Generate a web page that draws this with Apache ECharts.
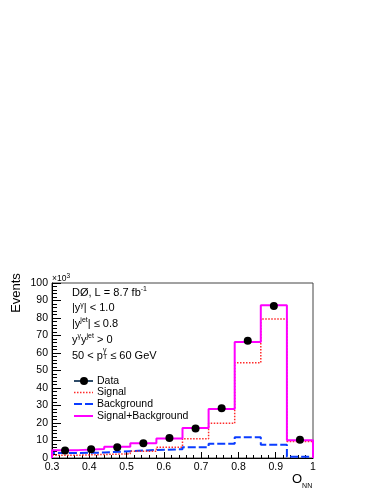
<!DOCTYPE html>
<html>
<head>
<meta charset="utf-8">
<script src="https://cdn.jsdelivr.net/npm/echarts@6/dist/echarts.min.js"></script>
<style>
html,body{margin:0;padding:0;background:#fff;}
#c{width:383px;height:495px;}
</style>
</head>
<body>
<div id="c"></div>
<script>
// ---- data (values in units of 10^3 events) ----
const binEdges = [0.30, 0.37, 0.44, 0.51, 0.58, 0.65, 0.72, 0.79, 0.86, 0.93, 1.00];
const binCenters = [0.335, 0.405, 0.475, 0.545, 0.615, 0.685, 0.755, 0.825, 0.895, 0.965];
const dataVals = [4.3, 5.0, 6.1, 8.5, 11.5, 16.8, 28.5, 67.0, 86.8, 10.5];
const signalVals = [1.6, 2.0, 2.4, 3.8, 6.2, 11.0, 19.8, 54.5, 79.5, 9.5];
const backgroundVals = [2.9, 3.1, 3.9, 4.6, 5.0, 6.2, 8.2, 11.9, 7.6, 0.7];
const sumVals = [4.5, 5.1, 6.4, 8.5, 11.1, 17.2, 28.0, 66.3, 87.3, 10.1];
const legendNames = ['Data', 'Signal', 'Background', 'Signal+Background'];
const xTickLabels = ['0.3', '0.4', '0.5', '0.6', '0.7', '0.8', '0.9', '1'];
const yTickLabels = ['0', '10', '20', '30', '40', '50', '60', '70', '80', '90', '100'];

function histPoints(vals) {
  const pts = [[binEdges[0], 0]];
  for (let i = 0; i < vals.length; i++) pts.push([binEdges[i], vals[i]]);
  pts.push([binEdges[binEdges.length - 1], vals[vals.length - 1]]);
  pts.push([binEdges[binEdges.length - 1], 0]);
  return pts;
}

const FONT = '"Liberation Sans", Arial, Helvetica, sans-serif';
const chart = echarts.init(document.getElementById('c'), null, {renderer: 'canvas'});

const GL = 52, GR = 313, GT = 283, GB = 458;

const legendY = [381, 392.5, 404, 416];
const legendGraphics = [];
legendGraphics.push({type: 'line', shape: {x1: 74, y1: legendY[0], x2: 93, y2: legendY[0]}, style: {stroke: '#2e4b68', lineWidth: 2}});
legendGraphics.push({type: 'circle', shape: {cx: 84, cy: legendY[0], r: 4}, style: {fill: '#000'}});
legendGraphics.push({type: 'line', shape: {x1: 74, y1: legendY[1], x2: 93, y2: legendY[1]}, style: {stroke: '#ff2a2a', lineWidth: 1.5, lineDash: [1.5, 1.5]}});
legendGraphics.push({type: 'line', shape: {x1: 74, y1: legendY[2], x2: 93, y2: legendY[2]}, style: {stroke: '#0a3cff', lineWidth: 2, lineDash: [8, 3]}});
legendGraphics.push({type: 'line', shape: {x1: 74, y1: legendY[3], x2: 93, y2: legendY[3]}, style: {stroke: '#ff00ff', lineWidth: 2}});
legendNames.forEach((n, i) => {
  legendGraphics.push({type: 'text', x: 97, y: legendY[i], style: {text: n, font: '10.5px ' + FONT, fill: '#000', verticalAlign: 'middle', align: 'left'}});
});

const base = {fontSize: 11, fontFamily: FONT, color: '#000', verticalAlign: 'bottom', lineHeight: 12};
const sup = {fontSize: 7, fontFamily: FONT, color: '#000', verticalAlign: 'top', lineHeight: 12};
const sub = {fontSize: 7, fontFamily: FONT, color: '#000', verticalAlign: 'bottom', lineHeight: 9};

function richText(y, text) {
  return {type: 'text', x: 72, y: y, style: {text: text, verticalAlign: 'middle', align: 'left', rich: {a: base, s: sup, b: sub}}};
}

const annot = [
  richText(292, '{a|DØ, L = 8.7 fb}{s|-1}'),
  richText(307.5, '{a||y}{s|γ}{a|| < 1.0}'),
  richText(323, '{a||y}{s|jet}{a|| ≤ 0.8}'),
  richText(339, '{a|y}{s|γ}{a|y}{s|jet}{a| > 0}'),
  richText(355, '{a|50 < p}{b|T}{a| ≤ 60 GeV}'),
  {type: 'text', x: 103, y: 346.5, style: {text: 'γ', font: '7px ' + FONT, fill: '#000', align: 'left', verticalAlign: 'top'}}
];

const option = {
  animation: false,
  backgroundColor: '#fff',
  grid: {left: GL, right: 383 - GR, top: GT, bottom: 495 - GB, show: true, borderColor: '#444', borderWidth: 1, backgroundColor: 'transparent'},
  xAxis: {
    type: 'value', min: 0.3, max: 1.0, interval: 0.1,
    axisLine: {show: true, onZero: false, lineStyle: {color: '#000', width: 1}},
    axisTick: {show: true, inside: true, length: 6, lineStyle: {color: '#000'}},
    minorTick: {show: true, splitNumber: 5, length: 3, lineStyle: {color: '#000'}},
    splitLine: {show: false},
    axisLabel: {
      fontSize: 10.5, fontFamily: FONT, color: '#000', margin: 4,
      formatter: v => { const i = Math.round((v - 0.3) / 0.1); return xTickLabels[i] !== undefined ? xTickLabels[i] : ''; }
    }
  },
  yAxis: {
    type: 'value', min: 0, max: 100, interval: 10,
    axisLine: {show: true, lineStyle: {color: '#000', width: 1}},
    axisTick: {show: true, inside: true, length: 9, lineStyle: {color: '#000'}},
    minorTick: {show: true, splitNumber: 5, length: 5, lineStyle: {color: '#000'}},
    splitLine: {show: false},
    axisLabel: {
      fontSize: 10.5, fontFamily: FONT, color: '#000', margin: 4,
      formatter: v => { const i = Math.round(v / 10); return yTickLabels[i] !== undefined ? yTickLabels[i] : ''; }
    }
  },
  series: [
    {
      name: 'Background', type: 'line', step: 'end', data: histPoints(backgroundVals),
      showSymbol: false, symbol: 'none', lineStyle: {color: '#0a3cff', width: 2, type: [8, 3]}, z: 2
    },
    {
      name: 'Signal', type: 'line', step: 'end', data: histPoints(signalVals),
      showSymbol: false, symbol: 'none', lineStyle: {color: '#ff2a2a', width: 1.5, type: [1.5, 1.5]}, z: 3
    },
    {
      name: 'Signal+Background', type: 'line', step: 'end', data: histPoints(sumVals),
      showSymbol: false, symbol: 'none', lineStyle: {color: '#ff00ff', width: 2}, z: 4
    },
    {
      name: 'Data', type: 'scatter', data: binCenters.map((x, i) => [x, dataVals[i]]),
      symbol: 'circle', symbolSize: 8, itemStyle: {color: '#000', opacity: 1, borderWidth: 0}, z: 5
    }
  ],
  graphic: [
    {type: 'text', x: 16, y: 293, rotation: Math.PI / 2, style: {text: 'Events', font: '13px ' + FONT, fill: '#000', align: 'center', verticalAlign: 'middle'}},
    {type: 'text', x: 52, y: 278, style: {text: '{a|×10}{s|3}', verticalAlign: 'middle', align: 'left', rich: {a: {fontSize: 8.5, fontFamily: FONT, color: '#000', verticalAlign: 'bottom', lineHeight: 10}, s: {fontSize: 6.5, fontFamily: FONT, color: '#000', verticalAlign: 'top', lineHeight: 10}}}},
    {type: 'text', x: 292, y: 481, style: {text: '{a|O}{b|NN}', verticalAlign: 'middle', align: 'left', rich: {a: {fontSize: 13, fontFamily: FONT, color: '#000', verticalAlign: 'top', lineHeight: 17}, b: {fontSize: 7, fontFamily: FONT, color: '#000', verticalAlign: 'bottom', lineHeight: 17}}}},
    ...annot,
    ...legendGraphics
  ]
};
chart.setOption(option);
</script>
</body>
</html>
